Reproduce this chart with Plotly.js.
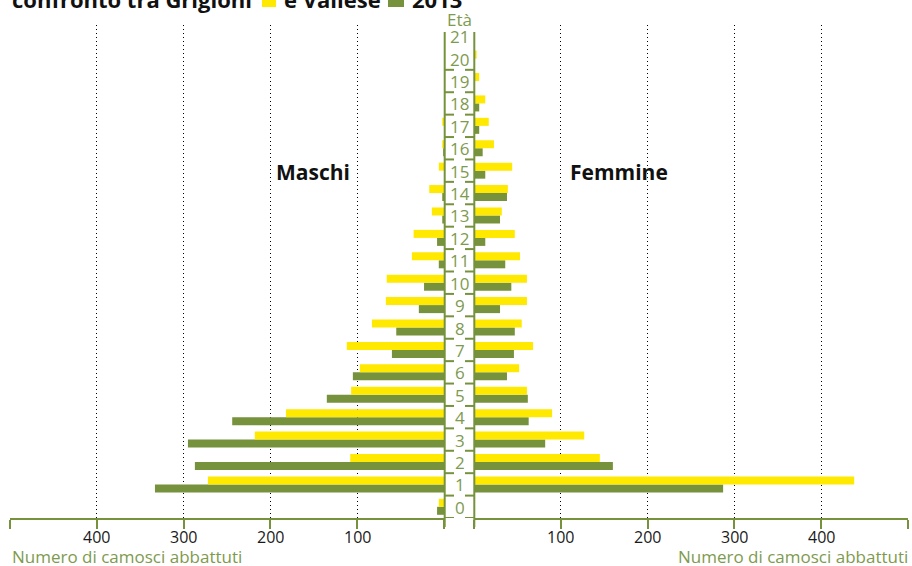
<!DOCTYPE html>
<html>
<head>
<meta charset="utf-8">
<script src="https://cdn.plot.ly/plotly-3.0.1.min.js"></script>
<style>html,body{margin:0;padding:0;background:#fff;}#chart{width:912px;height:566px;}</style>
</head>
<body>
<div id="chart"></div>
<script>
// Age classes (Età)
const ages = [0,1,2,3,4,5,6,7,8,9,10,11,12,13,14,15,16,17,18,19,20,21];
const ageLabels = ages.map(String);
// Maschi (left side)
const maschiGrigioni = [6,272,108,218,182,107,97,112,83,67,66,37,35,14,17,6,2,2,0,0,0,0];
const maschiVallese  = [8,333,287,295,244,135,105,60,55,29,23,6,8,2,2,0,1,0,0,0,0,0];
// Femmine (right side)
const femmineGrigioni = [0,438,145,127,90,61,52,68,55,61,61,53,47,32,39,44,23,17,13,6,3,0];
const femmineVallese  = [0,287,160,82,63,62,38,46,47,30,43,36,13,30,38,13,10,6,6,0,0,0];
// Axis ticks
const tickVals = [0,100,200,300,400,500];
const tickText = ['','100','200','300','400',''];

const YELLOW = '#FFE900';
const GREEN = '#76923C';
const LGREEN = '#7E9A4E';
const FONT = 'Open Sans, Noto Sans, sans-serif';

// pixel helpers for decorations (margins l=10, r=4, t=25, b=48)
const W = 912, H = 566, ML = 10, MR = 4, MT = 25, MB = 48;
const PW = W - ML - MR, PH = H - MT - MB;
const px = v => (v - ML) / PW;
const py = v => (H - MB - v) / PH;

const traces = [
  {type:'bar', orientation:'h', y: ages, x: maschiVallese, xaxis:'x', yaxis:'y', marker:{color:GREEN}, name:'Vallese'},
  {type:'bar', orientation:'h', y: ages, x: maschiGrigioni, xaxis:'x', yaxis:'y', marker:{color:YELLOW}, name:'Grigioni'},
  {type:'bar', orientation:'h', y: ages, x: femmineVallese, xaxis:'x2', yaxis:'y', marker:{color:GREEN}, name:'Vallese'},
  {type:'bar', orientation:'h', y: ages, x: femmineGrigioni, xaxis:'x2', yaxis:'y', marker:{color:YELLOW}, name:'Grigioni'}
];

const xcommon = {
  tickmode:'array', tickvals: tickVals, ticktext: tickVals.map(() => ''),
  showgrid:true, gridcolor:'#000', gridwidth:1, griddash:'1px,3px',
  zeroline:false, showline:true, linecolor:GREEN, linewidth:2,
  ticks:'outside', ticklen:9, tickwidth:2, tickcolor:GREEN,
  showticklabels:false,
  anchor:'y', fixedrange:true
};

const annotations = [];
// Tick labels (drawn at the tick values of each axis)
['x','x2'].forEach(ax => {
  tickVals.forEach((v, i) => {
    if (!tickText[i]) return;
    annotations.push({xref:ax, yref:'paper', x:v, y:py(537), text:tickText[i], showarrow:false,
      xanchor:'center', yanchor:'middle', height:16,
      font:{family:FONT, size:16, color:'#1a1a1a'}});
  });
});
// Age labels in the centre column
ages.forEach((a, i) => {
  annotations.push({xref:'paper', yref:'y', x: px(459.5), y: a, text: ageLabels[i],
    showarrow:false, xanchor:'center', yanchor:'middle', height:18,
    font:{family:FONT, size:17, color:LGREEN}});
});
annotations.push({xref:'paper', yref:'paper', x:px(459), y:py(19), text:'Età', showarrow:false,
  xanchor:'center', yanchor:'middle', height:15, font:{family:FONT, size:17, color:LGREEN}});
annotations.push({xref:'paper', yref:'paper', x:px(313), y:py(172), text:'<b>Maschi</b>', showarrow:false,
  xanchor:'center', yanchor:'middle', font:{family:FONT, size:21, color:'#111'}});
annotations.push({xref:'paper', yref:'paper', x:px(619), y:py(172), text:'<b>Femmine</b>', showarrow:false,
  xanchor:'center', yanchor:'middle', font:{family:FONT, size:21, color:'#111'}});
annotations.push({xref:'paper', yref:'paper', x:0, y:py(556), text:'Numero di camosci abbattuti', showarrow:false,
  xanchor:'left', yanchor:'middle', height:18, font:{family:FONT, size:17, color:LGREEN}});
annotations.push({xref:'paper', yref:'paper', x:px(910), y:py(556), text:'Numero di camosci abbattuti', showarrow:false,
  xanchor:'right', yanchor:'middle', height:18, font:{family:FONT, size:17, color:LGREEN}});
// Title pieces (cut at the top edge as in the reference)
const titleY = py(-1);
annotations.push({xref:'paper', yref:'paper', x:px(10), y:titleY, text:'<b>confronto tra Grigioni</b>', showarrow:false,
  xanchor:'left', yanchor:'middle', font:{family:FONT, size:22, color:'#111'}});
annotations.push({xref:'paper', yref:'paper', x:px(282), y:titleY, text:'<b>e Vallese</b>', showarrow:false,
  xanchor:'left', yanchor:'middle', font:{family:FONT, size:22, color:'#111'}});
annotations.push({xref:'paper', yref:'paper', x:px(410), y:titleY, text:'<b>2013</b>', showarrow:false,
  xanchor:'left', yanchor:'middle', font:{family:FONT, size:22, color:'#111'}});

const shapes = [];
// legend squares in title
shapes.push({type:'rect', xref:'paper', yref:'paper', x0:px(262), x1:px(276), y0:py(-8), y1:py(7), fillcolor:YELLOW, line:{width:0}});
shapes.push({type:'rect', xref:'paper', yref:'paper', x0:px(388), x1:px(404), y0:py(-8), y1:py(7), fillcolor:GREEN, line:{width:0}});
// centre column frame
[444.7, 474.3].forEach(xx => {
  shapes.push({type:'line', xref:'paper', yref:'paper', x0:px(xx), x1:px(xx), y0:py(32), y1:py(527),
    line:{color:GREEN, width:2}});
});
for (let i = 0; i < ages.length - 1; i++) {
  const b = ages[i] - 0.5;
  shapes.push({type:'line', xref:'paper', yref:'y', x0:px(444.7), x1:px(454), y0:b, y1:b, line:{color:GREEN, width:2}});
  shapes.push({type:'line', xref:'paper', yref:'y', x0:px(465), x1:px(474.3), y0:b, y1:b, line:{color:GREEN, width:2}});
}

const layout = {
  width: W, height: H,
  margin:{l:ML, r:MR, t:MT, b:MB, pad:0},
  paper_bgcolor:'#fff', plot_bgcolor:'rgba(0,0,0,0)',
  showlegend:false,
  barmode:'group', bargap:0.285, bargroupgap:0,
  font:{family:FONT},
  xaxis: Object.assign({}, xcommon, {domain:[0, px(444)], range:[500, 0]}),
  xaxis2: Object.assign({}, xcommon, {domain:[px(474), 1], range:[0, 500]}),
  yaxis: {range:[-0.5, 21.5], showticklabels:false, showgrid:false, zeroline:false, showline:false, ticks:'', fixedrange:true},
  annotations: annotations,
  shapes: shapes
};

Plotly.newPlot('chart', traces, layout, {displayModeBar:false, staticPlot:true});
</script>
</body>
</html>
